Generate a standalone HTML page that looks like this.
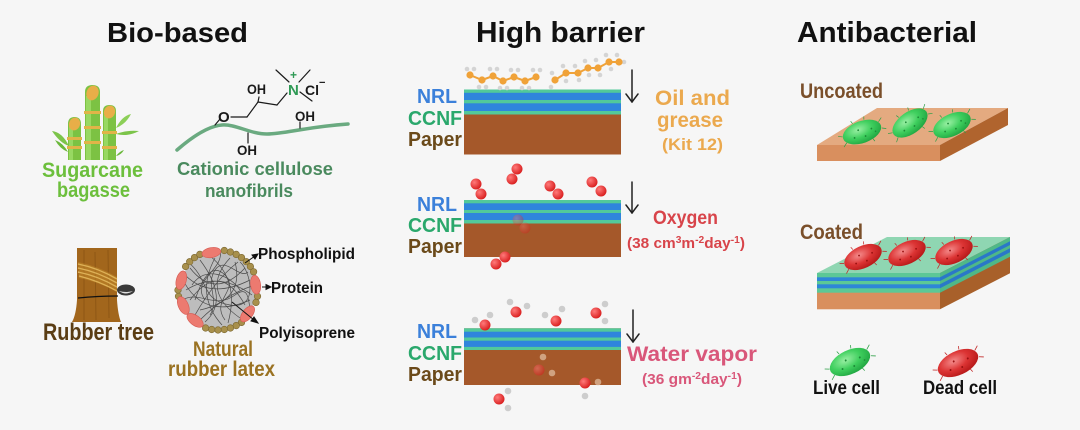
<!DOCTYPE html>
<html><head><meta charset="utf-8"><style>
html,body{margin:0;padding:0;background:#f6f6f6;}
svg{display:block;}
text{font-family:"Liberation Sans",Arial,sans-serif;font-weight:bold;}
</style></head><body>
<svg width="1080" height="430" viewBox="0 0 1080 430" xmlns="http://www.w3.org/2000/svg">
<defs>
<radialGradient id="gG" cx="0.42" cy="0.35" r="0.65"><stop offset="0" stop-color="#9af0a4"/><stop offset="0.55" stop-color="#3fcf5e"/><stop offset="1" stop-color="#22a843"/></radialGradient>
<radialGradient id="gR" cx="0.42" cy="0.35" r="0.65"><stop offset="0" stop-color="#f48c8c"/><stop offset="0.55" stop-color="#dc3434"/><stop offset="1" stop-color="#b81a1a"/></radialGradient>
<radialGradient id="gO" cx="0.35" cy="0.35" r="0.7"><stop offset="0" stop-color="#ff7a7a"/><stop offset="1" stop-color="#d81c1c"/></radialGradient>
<clipPath id="ballClip"><circle cx="218" cy="290" r="37"/></clipPath>
<g id="gcell">
 <g stroke="#2a9e44" stroke-width="0.7">
  <line x1="-20" y1="-2" x2="-24" y2="-4"/><line x1="-18" y1="5" x2="-22" y2="8"/><line x1="19" y1="-4" x2="23" y2="-7"/><line x1="20" y1="3" x2="24" y2="5"/><line x1="-6" y1="-11" x2="-7" y2="-14"/><line x1="8" y1="10" x2="9" y2="13"/><line x1="6" y1="-11" x2="7" y2="-14"/>
 </g>
 <ellipse rx="20" ry="11" fill="url(#gG)"/>
 <g fill="#1e8a38"><circle cx="-9" cy="3" r="0.9"/><circle cx="2" cy="5" r="0.9"/><circle cx="10" cy="0" r="0.9"/><circle cx="-3" cy="-3" r="0.9"/><circle cx="13" cy="4" r="0.8"/></g>
</g>
<g id="rcell">
 <g stroke="#c02020" stroke-width="0.7">
  <line x1="-20" y1="-2" x2="-24" y2="-4"/><line x1="-18" y1="5" x2="-22" y2="8"/><line x1="19" y1="-4" x2="23" y2="-7"/><line x1="20" y1="3" x2="24" y2="5"/><line x1="-6" y1="-11" x2="-7" y2="-14"/><line x1="8" y1="10" x2="9" y2="13"/><line x1="6" y1="-11" x2="7" y2="-14"/>
 </g>
 <ellipse rx="20" ry="11" fill="url(#gR)"/>
 <g fill="#9a1010"><circle cx="-9" cy="3" r="0.9"/><circle cx="2" cy="5" r="0.9"/><circle cx="10" cy="0" r="0.9"/><circle cx="-3" cy="-3" r="0.9"/></g>
</g>
<g id="o2"><circle cx="0" cy="0" r="5.5" fill="url(#gO)"/></g>
<g id="h2o">
 <circle cx="0" cy="0" r="5.5" fill="url(#gO)"/>
</g>
</defs>

<rect width="1080" height="430" fill="#f6f6f6"/>

<!-- Titles -->
<text x="107" y="42" font-size="28" textLength="141" lengthAdjust="spacingAndGlyphs" fill="#111">Bio-based</text>
<text x="476" y="42" font-size="29" textLength="169" lengthAdjust="spacingAndGlyphs" fill="#111">High barrier</text>
<text x="797" y="42" font-size="29" textLength="180" lengthAdjust="spacingAndGlyphs" fill="#111">Antibacterial</text>

<!-- ========== Sugarcane ========== -->
<g>
 <!-- leaves -->
 <path d="M52,131 Q62,132 69,146 Q60,143 52,131 Z" fill="#7cc44a"/>
 <path d="M55,140 Q63,143 68,152 Q60,149 55,140 Z" fill="#6ab83a"/>
 <path d="M116,128 Q122,116 131,114 Q126,124 116,128 Z" fill="#8ccf58"/>
 <path d="M116,134 Q126,130 139,131 Q128,137 116,134 Z" fill="#7cc44a"/>
 <path d="M116,156 Q120,151 124,150 Q121,155 116,156 Z" fill="#6ab83a"/>
 <!-- left stalk -->
 <path d="M68,160 L68,124 Q68,117 74.5,117 Q81,117 81,124 L81,160 Z" fill="#7cc243"/>
 <rect x="69" y="126" width="4" height="34" fill="#98d862"/>
 <ellipse cx="74.5" cy="124" rx="5.5" ry="6.5" transform="rotate(20 74.5 124)" fill="#e8ae48"/>
 <rect x="67" y="137" width="15" height="3" fill="#e0b448"/>
 <rect x="67" y="146" width="15" height="3" fill="#e0b448"/>
 <!-- middle stalk -->
 <path d="M85,160 L85,92 Q85,85 92.5,85 Q100,85 100,92 L100,160 Z" fill="#7cc243"/>
 <rect x="86" y="96" width="5" height="64" fill="#98d862"/>
 <ellipse cx="92.5" cy="93" rx="6" ry="7.5" transform="rotate(20 92.5 93)" fill="#e8ae48"/>
 <rect x="84" y="111" width="17" height="3" fill="#e0b448"/>
 <rect x="84" y="126" width="17" height="3" fill="#e0b448"/>
 <rect x="84" y="141" width="17" height="3" fill="#e0b448"/>
 <!-- right stalk -->
 <path d="M103,160 L103,111 Q103,105 109.5,105 Q116,105 116,111 L116,160 Z" fill="#7cc243"/>
 <rect x="104" y="115" width="4" height="45" fill="#98d862"/>
 <ellipse cx="109.5" cy="112" rx="5.5" ry="6.5" transform="rotate(20 109.5 112)" fill="#e8ae48"/>
 <rect x="102" y="131" width="15" height="3" fill="#e0b448"/>
 <rect x="102" y="146" width="15" height="3" fill="#e0b448"/>
</g>
<text x="42" y="177" font-size="21" textLength="101" lengthAdjust="spacingAndGlyphs" fill="#6cbf3c">Sugarcane</text>
<text x="57" y="197" font-size="21" textLength="73" lengthAdjust="spacingAndGlyphs" fill="#6cbf3c">bagasse</text>

<!-- ========== Cationic cellulose ========== -->
<path d="M177,150 C192,137 208,126 222,125 C236,124 250,134 267,134 C285,134 305,127 348,124" fill="none" stroke="#6aaa80" stroke-width="3.5" stroke-linecap="round"/>
<g stroke="#1a1a1a" stroke-width="1.2" fill="none" stroke-linecap="round">
 <line x1="215" y1="125" x2="220" y2="119"/>
 <line x1="231" y1="117" x2="247" y2="117"/>
 <line x1="247" y1="117" x2="258" y2="102"/>
 <line x1="258" y1="102" x2="259" y2="97"/>
 <line x1="258" y1="102" x2="277" y2="105"/>
 <line x1="277" y1="105" x2="287" y2="93"/>
 <line x1="289" y1="82" x2="276" y2="70"/>
 <line x1="299" y1="82" x2="310" y2="70"/>
 <line x1="300" y1="92" x2="312" y2="101"/>
 <line x1="300" y1="122" x2="300" y2="128"/>
 <line x1="248" y1="133" x2="248" y2="143"/>
</g>
<g font-weight="normal" fill="#1a1a1a">
 <text x="218" y="122" font-size="15" font-weight="normal">O</text>
 <text x="247" y="94" font-size="14" font-weight="normal" textLength="19" lengthAdjust="spacingAndGlyphs">OH</text>
 <text x="295" y="121" font-size="14" font-weight="normal" textLength="20" lengthAdjust="spacingAndGlyphs">OH</text>
 <text x="237" y="155" font-size="14" font-weight="normal" textLength="20" lengthAdjust="spacingAndGlyphs">OH</text>
 <text x="305" y="95" font-size="14" font-weight="normal">Cl</text>
 <text x="319" y="86" font-size="11" font-weight="normal">−</text>
</g>
<text x="288" y="95" font-size="15" font-weight="normal" fill="#2f9a55">N</text>
<text x="290" y="79" font-size="12" font-weight="normal" fill="#2f9a55">+</text>
<text x="177" y="175" font-size="18" textLength="156" lengthAdjust="spacingAndGlyphs" fill="#4a8a5e">Cationic cellulose</text>
<text x="205" y="197" font-size="18" textLength="88" lengthAdjust="spacingAndGlyphs" fill="#4a8a5e">nanofibrils</text>

<!-- ========== Rubber tree ========== -->
<path d="M77,248 L117,248 L117,300 Q118,315 121,322 L72,322 Q76,315 77,300 Z" fill="#a2661c"/>
<g stroke="#8a5414" stroke-width="1" opacity="0.8">
 <line x1="84" y1="250" x2="84" y2="320"/><line x1="95" y1="252" x2="96" y2="320"/><line x1="108" y1="250" x2="109" y2="318"/>
</g>
<g stroke="#f0cc78" stroke-width="1.3" fill="none">
 <path d="M78,264 Q98,268 117,279"/>
 <path d="M78,268 Q98,272 117,283"/>
 <path d="M78,272 Q98,276 117,287"/>
 <path d="M79,276 Q99,281 117,291"/>
</g>
<path d="M78,262 Q98,266 117,277 L117,292 Q99,282 79,278 Z" fill="#c8902e" opacity="0.45"/>
<path d="M78,298 Q98,296 118,296" stroke="#111" stroke-width="1.2" fill="none"/>
<ellipse cx="126" cy="290" rx="9" ry="5.5" fill="#3a3a3a"/>
<path d="M119,291 Q126,296 133,291 Q126,293 119,291 Z" fill="#e0e0e0"/>
<text x="43" y="340" font-size="24" textLength="111" lengthAdjust="spacingAndGlyphs" fill="#5a3d14">Rubber tree</text>

<!-- ========== Latex particle ========== -->
<circle cx="218" cy="290" r="38" fill="#bdbdbd"/>
<g clip-path="url(#ballClip)" stroke="#4a4a4a" stroke-width="0.7" fill="none">
 <path d="M185,275 Q210,300 250,280"/>
 <path d="M190,300 Q220,260 245,305"/>
 <path d="M200,260 Q230,300 205,322"/>
 <path d="M230,258 Q200,290 240,318"/>
 <path d="M186,290 Q218,270 252,295"/>
 <path d="M195,315 Q215,280 238,262"/>
 <path d="M210,256 Q240,280 228,323"/>
 <path d="M184,282 Q205,320 250,300"/>
 <path d="M245,268 Q215,300 190,268"/>
 <path d="M200,320 Q225,295 252,286"/>
 <path d="M215,258 Q195,295 222,325"/>
 <path d="M235,262 Q245,300 200,310"/>
 <path d="M188,262 C210,280 200,300 230,305 S250,270 240,262"/>
 <path d="M182,300 C200,290 215,310 235,295 S245,320 255,310"/>
 <path d="M205,300 C190,280 225,270 220,250"/>
 <path d="M225,320 C210,300 240,290 225,275 S200,285 195,300"/>
 <path d="M192,285 C205,265 230,275 240,290"/>
 <path d="M210,315 C220,300 205,285 215,270 S240,280 248,272"/>
</g>
<g fill="#a8904c" stroke="#7a6630" stroke-width="0.6">
 <circle cx="257.5" cy="296.3" r="3.3"/><circle cx="256" cy="302.4" r="3.3"/>
 <circle cx="241.5" cy="322.4" r="3.3"/><circle cx="236.2" cy="325.6" r="3.3"/><circle cx="230.4" cy="328" r="3.3"/><circle cx="224.3" cy="329.5" r="3.3"/><circle cx="218" cy="330" r="3.3"/><circle cx="211.7" cy="329.5" r="3.3"/><circle cx="205.6" cy="328" r="3.3"/>
 <circle cx="178.5" cy="296.3" r="3.3"/><circle cx="178" cy="290" r="3.3"/>
 <circle cx="185.6" cy="266.5" r="3.3"/><circle cx="189.7" cy="261.7" r="3.3"/><circle cx="194.5" cy="257.6" r="3.3"/><circle cx="199.8" cy="254.4" r="3.3"/>
 <circle cx="224.3" cy="250.5" r="3.3"/><circle cx="230.4" cy="252" r="3.3"/><circle cx="236.2" cy="254.4" r="3.3"/><circle cx="241.5" cy="257.6" r="3.3"/><circle cx="246.3" cy="261.7" r="3.3"/><circle cx="250.4" cy="266.5" r="3.3"/><circle cx="253.6" cy="271.8" r="3.3"/>
</g>
<g fill="#ec7a70" stroke="#d55a52" stroke-width="0.6">
 <ellipse cx="211.4" cy="252.6" rx="9.5" ry="5" transform="rotate(-10 211.4 252.6)"/>
 <ellipse cx="255.6" cy="284.7" rx="9.5" ry="5" transform="rotate(82 255.6 284.7)"/>
 <ellipse cx="247.5" cy="313.9" rx="9.5" ry="5" transform="rotate(129 247.5 313.9)"/>
 <ellipse cx="181.3" cy="280.2" rx="9.5" ry="5" transform="rotate(285 181.3 280.2)"/>
 <ellipse cx="183.3" cy="305.5" rx="9.5" ry="5" transform="rotate(246 183.3 305.5)"/>
 <ellipse cx="195.1" cy="320.4" rx="9.5" ry="5" transform="rotate(217 195.1 320.4)"/>
</g>
<!-- label arrows -->
<g stroke="#111" stroke-width="1" fill="#111">
 <line x1="245" y1="263" x2="255" y2="256"/><path d="M258,254 L252,255 L255,259 Z"/>
 <line x1="262" y1="287" x2="267" y2="287"/><path d="M271,287 L266,284.5 L266,289.5 Z"/>
 <line x1="232" y1="302" x2="254" y2="320"/><path d="M258,323 L251,321 L254,317 Z"/>
</g>
<text x="258" y="259" font-size="16" textLength="97" lengthAdjust="spacingAndGlyphs" fill="#111">Phospholipid</text>
<text x="271" y="293" font-size="16" textLength="52" lengthAdjust="spacingAndGlyphs" fill="#111">Protein</text>
<text x="259" y="338" font-size="16" textLength="96" lengthAdjust="spacingAndGlyphs" fill="#111">Polyisoprene</text>
<text x="193" y="356" font-size="21" textLength="60" lengthAdjust="spacingAndGlyphs" fill="#9a7222">Natural</text>
<text x="168" y="376" font-size="21" textLength="107" lengthAdjust="spacingAndGlyphs" fill="#9a7222">rubber latex</text>

<!-- ========== Middle stacks ========== -->
<!-- stack 1 -->
<rect x="464" y="89.5" width="157" height="65" fill="#a5582a"/>
<rect x="464" y="89.5" width="157" height="25" fill="#52c99a"/>
<rect x="464" y="92.8" width="157" height="7.2" fill="#2f85dc"/>
<rect x="464" y="103.3" width="157" height="7.7" fill="#2f85dc"/>
<!-- stack 2 -->
<rect x="464" y="200" width="157" height="57" fill="#a5582a"/>
<rect x="464" y="200" width="157" height="23.5" fill="#52c99a"/>
<rect x="464" y="203.3" width="157" height="6.7" fill="#2f85dc"/>
<rect x="464" y="213" width="157" height="7" fill="#2f85dc"/>
<!-- stack 3 -->
<rect x="464" y="328.3" width="157" height="56.7" fill="#a5582a"/>
<rect x="464" y="328.3" width="157" height="21.7" fill="#52c99a"/>
<rect x="464" y="331.7" width="157" height="5.8" fill="#2f85dc"/>
<rect x="464" y="340.7" width="157" height="6.2" fill="#2f85dc"/>

<!-- stack labels -->
<g font-size="20">
 <text x="417" y="103" textLength="40" lengthAdjust="spacingAndGlyphs" fill="#3b80da">NRL</text>
 <text x="408" y="125" textLength="54" lengthAdjust="spacingAndGlyphs" fill="#2aa86c">CCNF</text>
 <text x="408" y="146" textLength="54" lengthAdjust="spacingAndGlyphs" fill="#6b4a1a">Paper</text>
 <text x="417" y="211" textLength="40" lengthAdjust="spacingAndGlyphs" fill="#3b80da">NRL</text>
 <text x="408" y="232" textLength="54" lengthAdjust="spacingAndGlyphs" fill="#2aa86c">CCNF</text>
 <text x="408" y="253" textLength="54" lengthAdjust="spacingAndGlyphs" fill="#6b4a1a">Paper</text>
 <text x="417" y="338" textLength="40" lengthAdjust="spacingAndGlyphs" fill="#3b80da">NRL</text>
 <text x="408" y="360" textLength="54" lengthAdjust="spacingAndGlyphs" fill="#2aa86c">CCNF</text>
 <text x="408" y="381" textLength="54" lengthAdjust="spacingAndGlyphs" fill="#6b4a1a">Paper</text>
</g>

<!-- oil chains -->
<g fill="#d4d4d4">
 <circle cx="467" cy="69" r="2.3"/><circle cx="474" cy="69" r="2.3"/><circle cx="479" cy="87" r="2.3"/><circle cx="486" cy="87" r="2.3"/>
 <circle cx="490" cy="69" r="2.3"/><circle cx="497" cy="69" r="2.3"/><circle cx="500" cy="88" r="2.3"/><circle cx="507" cy="88" r="2.3"/>
 <circle cx="511" cy="70" r="2.3"/><circle cx="518" cy="70" r="2.3"/><circle cx="522" cy="88" r="2.3"/><circle cx="529" cy="88" r="2.3"/>
 <circle cx="533" cy="70" r="2.3"/><circle cx="540" cy="70" r="2.3"/>
 <circle cx="552" cy="73" r="2.3"/><circle cx="551" cy="87" r="2.3"/><circle cx="563" cy="66" r="2.3"/><circle cx="566" cy="81" r="2.3"/>
 <circle cx="575" cy="66" r="2.3"/><circle cx="579" cy="80" r="2.3"/><circle cx="585" cy="61" r="2.3"/><circle cx="589" cy="75" r="2.3"/>
 <circle cx="596" cy="60" r="2.3"/><circle cx="600" cy="75" r="2.3"/><circle cx="606" cy="55" r="2.3"/><circle cx="611" cy="69" r="2.3"/>
 <circle cx="617" cy="55" r="2.3"/><circle cx="624" cy="62" r="2.3"/>
</g>
<polyline points="470,75 482,80 493,76 503,81 514,77 525,81 536,77" fill="none" stroke="#f0a238" stroke-width="2"/>
<polyline points="555,80 566,73 578,73 588,68 598,68 609,62 619,62" fill="none" stroke="#f0a238" stroke-width="2"/>
<g fill="#f0a238">
 <circle cx="470" cy="75" r="3.6"/><circle cx="482" cy="80" r="3.6"/><circle cx="493" cy="76" r="3.6"/><circle cx="503" cy="81" r="3.6"/><circle cx="514" cy="77" r="3.6"/><circle cx="525" cy="81" r="3.6"/><circle cx="536" cy="77" r="3.6"/>
 <circle cx="555" cy="80" r="3.6"/><circle cx="566" cy="73" r="3.6"/><circle cx="578" cy="73" r="3.6"/><circle cx="588" cy="68" r="3.6"/><circle cx="598" cy="68" r="3.6"/><circle cx="609" cy="62" r="3.6"/><circle cx="619" cy="62" r="3.6"/>
</g>

<!-- oxygen molecules -->
<g>
 <use href="#o2" x="476" y="184"/><use href="#o2" x="481" y="194"/>
 <use href="#o2" x="517" y="169"/><use href="#o2" x="512" y="179"/>
 <use href="#o2" x="550" y="186"/><use href="#o2" x="558" y="194"/>
 <use href="#o2" x="592" y="182"/><use href="#o2" x="601" y="191"/>
 <g opacity="0.35"><use href="#o2" x="518" y="220"/><use href="#o2" x="525" y="228"/></g>
 <use href="#o2" x="505" y="257"/><use href="#o2" x="496" y="264"/>
</g>

<!-- water molecules -->
<g fill="#cdcdcd">
 <circle cx="475" cy="320" r="3.3"/><circle cx="490" cy="315" r="3.3"/>
 <circle cx="510" cy="302" r="3.3"/><circle cx="527" cy="306" r="3.3"/>
 <circle cx="545" cy="315" r="3.3"/><circle cx="562" cy="309" r="3.3"/>
 <circle cx="605" cy="304" r="3.3"/><circle cx="605" cy="321" r="3.3"/>
 <circle cx="508" cy="391" r="3.3"/><circle cx="508" cy="408" r="3.3"/>
 <circle cx="585" cy="396" r="3.3"/>
</g>
<g fill="#d8b090" opacity="0.85">
 <circle cx="543" cy="357" r="3.3"/><circle cx="552" cy="373" r="3.3"/><circle cx="598" cy="382" r="3.3"/>
</g>
<use href="#h2o" x="485" y="325"/>
<use href="#h2o" x="516" y="312"/>
<use href="#h2o" x="556" y="321"/>
<use href="#h2o" x="596" y="313"/>
<g opacity="0.5"><use href="#h2o" x="539" y="370"/></g>
<use href="#h2o" x="585" y="383"/>
<use href="#h2o" x="499" y="399"/>

<!-- down arrows -->
<g stroke="#222" stroke-width="1.5" fill="none" stroke-linecap="round" stroke-linejoin="round">
 <line x1="632" y1="70" x2="632" y2="102"/><polyline points="626,94 632,102 638,94"/>
 <line x1="632" y1="182" x2="632" y2="213"/><polyline points="626,205 632,213 638,205"/>
 <line x1="633" y1="310" x2="633" y2="342"/><polyline points="627,334 633,342 639,334"/>
</g>

<!-- barrier labels -->
<text x="655" y="105" font-size="21" textLength="75" lengthAdjust="spacingAndGlyphs" fill="#eba94e">Oil and</text>
<text x="657" y="127" font-size="21" textLength="66" lengthAdjust="spacingAndGlyphs" fill="#eba94e">grease</text>
<text x="662" y="150" font-size="17" textLength="61" lengthAdjust="spacingAndGlyphs" fill="#eba94e">(Kit 12)</text>
<text x="653" y="224" font-size="19" textLength="65" lengthAdjust="spacingAndGlyphs" fill="#d8444a">Oxygen</text>
<text x="627" y="248" font-size="15" fill="#d8444a" textLength="118" lengthAdjust="spacingAndGlyphs">(38 cm<tspan font-size="10" dy="-5">3</tspan><tspan dy="5">m</tspan><tspan font-size="10" dy="-5">-2</tspan><tspan dy="5">day</tspan><tspan font-size="10" dy="-5">-1</tspan><tspan dy="5">)</tspan></text>
<text x="627" y="361" font-size="21" textLength="130" lengthAdjust="spacingAndGlyphs" fill="#d9577a">Water vapor</text>
<text x="642" y="384" font-size="15" fill="#d9577a" textLength="100" lengthAdjust="spacingAndGlyphs">(36 gm<tspan font-size="10" dy="-5">-2</tspan><tspan dy="5">day</tspan><tspan font-size="10" dy="-5">-1</tspan><tspan dy="5">)</tspan></text>

<!-- ========== Right panel ========== -->
<text x="800" y="98" font-size="21" textLength="83" lengthAdjust="spacingAndGlyphs" fill="#7a4f2a">Uncoated</text>
<!-- uncoated board -->
<polygon points="877,108 1008,108 940,145 817,145" fill="#e4aa80"/>
<polygon points="817,145 940,145 940,161 817,161" fill="#d98f5e"/>
<polygon points="940,145 1008,108 1008,125 940,161" fill="#b0642e"/>
<use href="#gcell" transform="translate(862,132) rotate(-20)"/>
<use href="#gcell" transform="translate(910,123) rotate(-35)"/>
<use href="#gcell" transform="translate(952,125) rotate(-25)"/>

<text x="800" y="239" font-size="21" textLength="63" lengthAdjust="spacingAndGlyphs" fill="#7a4f2a">Coated</text>
<!-- coated board -->
<polygon points="887,237 1010,237 940,273 817,273" fill="#8fd6b2"/>
<!-- front -->
<rect x="817" y="273" width="123" height="36.3" fill="#d98f5e"/>
<rect x="817" y="273" width="123" height="19.7" fill="#5cc896"/>
<rect x="817" y="277.3" width="123" height="3.7" fill="#2e86d8"/>
<rect x="817" y="284.3" width="123" height="4" fill="#2e86d8"/>
<!-- side -->
<polygon points="940,273 1010,237 1010,273.3 940,309.3" fill="#a8602a"/>
<polygon points="940,273 1010,237 1010,256.7 940,292.7" fill="#4fb888"/>
<polygon points="940,277.3 1010,241.3 1010,245 940,281" fill="#2a78c8"/>
<polygon points="940,284.3 1010,248.3 1010,252.3 940,288.3" fill="#2a78c8"/>
<use href="#rcell" transform="translate(863,257) rotate(-25)"/>
<use href="#rcell" transform="translate(907,253) rotate(-25)"/>
<use href="#rcell" transform="translate(954,252) rotate(-25)"/>

<!-- legend -->
<use href="#gcell" transform="translate(850,362) rotate(-25) scale(1.08)"/>
<use href="#rcell" transform="translate(958,363) rotate(-25) scale(1.08)"/>
<text x="813" y="394" font-size="19" textLength="67" lengthAdjust="spacingAndGlyphs" fill="#111">Live cell</text>
<text x="923" y="394" font-size="19" textLength="74" lengthAdjust="spacingAndGlyphs" fill="#111">Dead cell</text>
</svg>
</body></html>
